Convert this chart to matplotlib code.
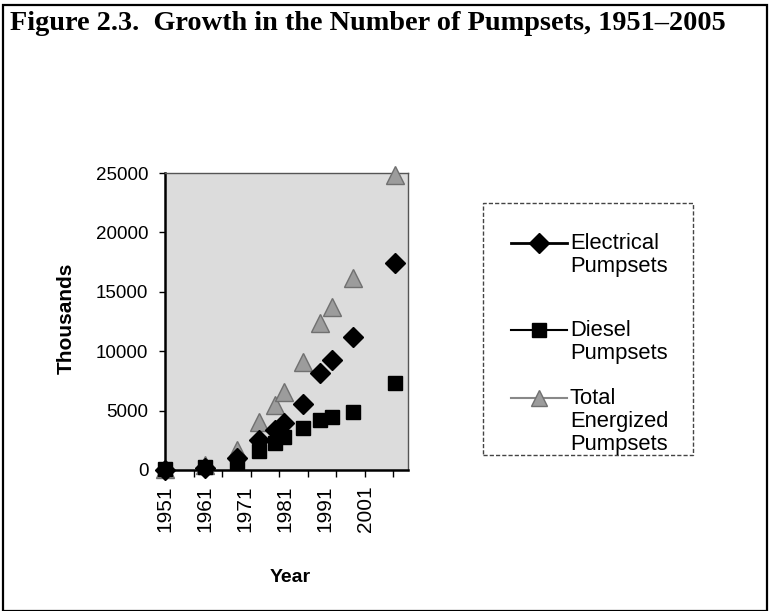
import numpy as np
import matplotlib
matplotlib.use("Agg")
import matplotlib.pyplot as plt
from matplotlib.lines import Line2D
from matplotlib.patches import Rectangle
from matplotlib.ticker import FixedLocator, NullFormatter

# ---- data (thousands) ----
years = [1951, 1961, 1969, 1974.5, 1978.5, 1980.8, 1985.5, 1989.8, 1992.8, 1998, 2008.5]
electrical = [20, 200, 1000, 2500, 3370, 3930, 5560, 8140, 9260, 11220, 17400]
diesel = [80, 230, 700, 1600, 2300, 2800, 3500, 4200, 4480, 4900, 7300]
total = [100, 430, 1700, 4030, 5450, 6550, 9100, 12370, 13750, 16130, 24830]

xtick_labels = ["1951", "1961", "1971", "1981", "1991", "2001"]
xtick_pos = [1951, 1961, 1971, 1981, 1991, 2001]
minor_tick_pos = list(np.arange(1951, 2010, 7.125))
ytick_vals = [0, 5000, 10000, 15000, 20000, 25000]

series_labels = ["Electrical\nPumpsets", "Diesel\nPumpsets", "Total\nEnergized\nPumpsets"]

plt.rcParams['font.family'] = ['Liberation Sans', 'DejaVu Sans']

W, H = 771, 611
fig = plt.figure(figsize=(W / 100, H / 100), dpi=100)

# outer frame
fig.patches.append(Rectangle((3 / W, 0), (767 - 3) / W, (H - 5) / H, transform=fig.transFigure,
                             fill=False, edgecolor='black', lw=1.6))

fig.text(10 / W, 1 - 24 / H, "Figure 2.3.  Growth in the Number of Pumpsets, 1951\u20132005",
         family=['Liberation Serif', 'DejaVu Serif'], weight='bold', fontsize=20.3,
         ha='left', va='center')

ax = fig.add_axes([165 / W, 1 - 470 / H, 243 / W, 297 / H])
ax.set_facecolor('#dcdcdc')
ax.set_xlim(1951, 2011.75)
ax.set_ylim(0, 25000)

ax.plot(years, total, linestyle='none', marker='^', markersize=12.5,
        markerfacecolor='#9c9c9c', markeredgecolor='#707070', markeredgewidth=1, clip_on=False, zorder=3)
ax.plot(years, diesel, linestyle='none', marker='s', markersize=10.5,
        markerfacecolor='black', markeredgecolor='black', clip_on=False, zorder=4)
ax.plot(years, electrical, linestyle='none', marker='D', markersize=10.5,
        markerfacecolor='black', markeredgecolor='black', clip_on=False, zorder=5)

ax.xaxis.set_major_locator(FixedLocator(xtick_pos))
ax.set_xticklabels(xtick_labels, rotation=90, fontsize=15)
ax.xaxis.set_minor_locator(FixedLocator(minor_tick_pos))
ax.xaxis.set_minor_formatter(NullFormatter())
ax.tick_params(axis='x', which='major', length=0, pad=11)
ax.tick_params(axis='x', which='minor', length=5, width=1, direction='out')
ax.set_yticks(ytick_vals)
ax.set_yticklabels([str(v) for v in ytick_vals], fontsize=13.5)
ax.tick_params(axis='y', length=4, width=1, direction='out', pad=8)

for s in ['left', 'bottom']:
    ax.spines[s].set_linewidth(1.8)
for s in ['top', 'right']:
    ax.spines[s].set_linewidth(1.0)
    ax.spines[s].set_color('#555555')

fig.text(66 / W, 1 - 318 / H, "Thousands", fontsize=15, weight='bold', rotation=90,
         ha='center', va='center')
fig.text(290 / W, 1 - 577 / H, "Year", fontsize=14, weight='bold', ha='center', va='center')

# legend box
fig.patches.append(Rectangle((483 / W, 1 - 455 / H), 210 / W, 252 / H, transform=fig.transFigure,
                             fill=False, edgecolor='#444444', lw=1.0, linestyle=(0, (3, 1.5))))
styles = [
    dict(color='black', lw=2, marker='D', markersize=10, mfc='black', mec='black'),
    dict(color='black', lw=1.5, marker='s', markersize=10.5, mfc='black', mec='black'),
    dict(color='#888888', lw=1.5, marker='^', markersize=12, mfc='#9c9c9c', mec='#707070'),
]
ys = [243, 330, 398]
for lab, st, yy in zip(series_labels, styles, ys):
    yf = 1 - yy / H
    fig.add_artist(Line2D([511 / W, 539 / W, 567 / W], [yf, yf, yf], transform=fig.transFigure,
                          markevery=[1], **st))
    fig.text(570 / W, yf + 10 / H, lab, fontsize=15.8, ha='left', va='top', linespacing=1.12)

fig.savefig("out.png", dpi=100, facecolor='white')
